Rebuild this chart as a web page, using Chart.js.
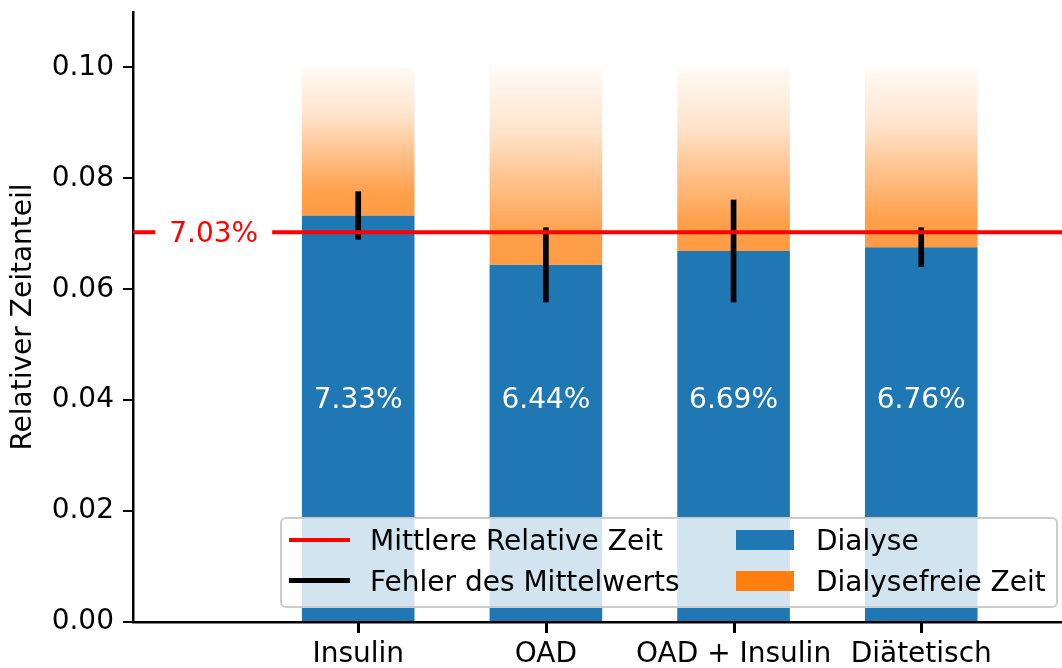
<!DOCTYPE html>
<html>
<head>
<meta charset="utf-8">
<script src="https://cdn.jsdelivr.net/npm/chart.js@4.4.1/dist/chart.umd.min.js"></script>
<style>
  html, body { margin: 0; padding: 0; background: #fff; }
  #wrap { width: 1062px; height: 668px; }
</style>
</head>
<body>
<div id="wrap"><canvas id="chart" width="1062" height="668"></canvas></div>
<script>
// Data
const categories = ['Insulin', 'OAD', 'OAD + Insulin', 'Diätetisch'];
const dialyse = [0.0733, 0.0644, 0.0669, 0.0676];
const fehler = [0.0043, 0.0067, 0.0092, 0.0035];
const barLabels = ['7.33%', '6.44%', '6.69%', '6.76%'];
const meanValue = 0.0703;
const meanLabel = '7.03%';
const yTop = 0.10;
const yTicks = [0, 0.02, 0.04, 0.06, 0.08, 0.10];
const xTicks = [0, 1, 2, 3];

const FONT = '"DejaVu Sans", "Liberation Sans", sans-serif';
const BLUE = '#1f77b4';

// orange part fades out towards the top
function orangeFill(c) {
  const chart = c.chart;
  if (!chart.chartArea || c.dataIndex === undefined) return 'rgba(255,127,14,0.75)';
  const ys = chart.scales.y;
  const y0 = ys.getPixelForValue(dialyse[c.dataIndex]);
  const y1 = ys.getPixelForValue(yTop);
  const g = chart.ctx.createLinearGradient(0, y0, 0, y1);
  g.addColorStop(0, 'rgba(255,127,14,0.78)');
  g.addColorStop(0.15, 'rgba(255,127,14,0.75)');
  g.addColorStop(0.45, 'rgba(255,127,14,0.45)');
  g.addColorStop(0.67, 'rgba(255,127,14,0.22)');
  g.addColorStop(1, 'rgba(255,127,14,0.03)');
  return g;
}

// labels in bars, mean label, x tick marks, legend
const extras = {
  id: 'extras',
  afterDatasetsDraw(chart) {
    const ctx = chart.ctx;
    const xs = chart.scales.x, ys = chart.scales.y;
    ctx.save();
    ctx.font = '28px ' + FONT;
    ctx.textAlign = 'center';
    ctx.textBaseline = 'alphabetic';
    ctx.fillStyle = '#fff';
    barLabels.forEach((t, i) => {
      ctx.fillText(t, xs.getPixelForValue(i), ys.getPixelForValue(0.04) + 8);
    });

    // mean label with white box over the red line
    const mx = xs.getPixelForValue(-0.77), my = ys.getPixelForValue(meanValue);
    const w = ctx.measureText(meanLabel).width;
    ctx.fillStyle = '#fff';
    ctx.fillRect(mx - w / 2 - 14, my - 12, w + 28, 24);
    ctx.fillStyle = '#ff0000';
    ctx.fillText(meanLabel, mx, my + 10);
    ctx.restore();
  },
  afterDraw(chart) {
    const ctx = chart.ctx;
    const xs = chart.scales.x;
    ctx.save();
    // x tick marks
    ctx.fillStyle = '#000';
    xTicks.forEach(v => {
      const px = Math.round(xs.getPixelForValue(v));
      ctx.fillRect(px - 1, xs.top, 3, 11);
    });

    // legend frame
    const x0 = 281, y0 = 518, x1 = 1057, y1 = 607, r = 5;
    ctx.beginPath();
    ctx.moveTo(x0 + r, y0);
    ctx.arcTo(x1, y0, x1, y1, r);
    ctx.arcTo(x1, y1, x0, y1, r);
    ctx.arcTo(x0, y1, x0, y0, r);
    ctx.arcTo(x0, y0, x1, y0, r);
    ctx.closePath();
    ctx.fillStyle = 'rgba(255,255,255,0.8)';
    ctx.fill();
    ctx.strokeStyle = '#cccccc';
    ctx.lineWidth = 2;
    ctx.stroke();

    ctx.lineCap = 'butt';
    ctx.strokeStyle = '#ff0000';
    ctx.lineWidth = 4;
    ctx.beginPath(); ctx.moveTo(289, 540); ctx.lineTo(350, 540); ctx.stroke();
    ctx.strokeStyle = '#000';
    ctx.lineWidth = 5;
    ctx.beginPath(); ctx.moveTo(289, 580.5); ctx.lineTo(350, 580.5); ctx.stroke();
    ctx.fillStyle = BLUE;
    ctx.fillRect(736, 530, 58, 20);
    ctx.fillStyle = '#ff7f0e';
    ctx.fillRect(736, 571, 58, 20);

    ctx.font = '28px ' + FONT;
    ctx.fillStyle = '#000';
    ctx.textAlign = 'left';
    ctx.textBaseline = 'alphabetic';
    ctx.fillText('Mittlere Relative Zeit', 370, 550);
    ctx.fillText('Fehler des Mittelwerts', 370, 591);
    ctx.fillText('Dialyse', 816, 550);
    ctx.fillText('Dialysefreie Zeit', 816, 591);
    ctx.restore();
  }
};

new Chart(document.getElementById('chart'), {
  type: 'bar',
  data: {
    datasets: [
      {
        type: 'line',
        label: 'Mittlere Relative Zeit',
        data: [{ x: -1.2, y: meanValue }, { x: 3.75, y: meanValue }],
        borderColor: '#ff0000',
        borderWidth: 4,
        pointRadius: 0,
        order: 0
      },
      {
        label: 'Fehler des Mittelwerts',
        data: dialyse.map((v, i) => ({ x: i, y: [v - fehler[i], v + fehler[i]] })),
        backgroundColor: '#000',
        barThickness: 5,
        grouped: false,
        order: 1
      },
      {
        label: 'Dialysefreie Zeit',
        data: dialyse.map((v, i) => ({ x: i, y: [v, yTop] })),
        backgroundColor: orangeFill,
        barPercentage: 0.6,
        categoryPercentage: 1,
        grouped: false,
        order: 2
      },
      {
        label: 'Dialyse',
        data: dialyse.map((v, i) => ({ x: i, y: v })),
        backgroundColor: BLUE,
        barPercentage: 0.6,
        categoryPercentage: 1,
        grouped: false,
        order: 3
      }
    ]
  },
  options: {
    responsive: false,
    animation: false,
    devicePixelRatio: 1,
    layout: { padding: { top: 12, left: 0, right: 0, bottom: 0 } },
    plugins: { legend: { display: false }, tooltip: { enabled: false } },
    scales: {
      x: {
        type: 'linear',
        min: -1.2,
        max: 3.75,
        offset: false,
        afterBuildTicks: s => { s.ticks = xTicks.map(v => ({ value: v })); },
        afterFit: s => { s.height = 46; s.paddingLeft = 0; s.paddingRight = 0; },
        ticks: {
          callback: v => categories[v] || '',
          font: { family: FONT, size: 28 },
          color: '#000',
          padding: 6,
          maxRotation: 0,
          autoSkip: false
        },
        grid: { display: true, offset: false, drawOnChartArea: false, drawTicks: true, tickLength: 10, color: '#000', lineWidth: 2 },
        border: { display: true, color: '#000', width: 2.5 }
      },
      y: {
        min: 0,
        max: 0.11,
        afterBuildTicks: s => { s.ticks = yTicks.map(v => ({ value: v })); },
        afterFit: s => { s.width = 133; s.paddingTop = 0; s.paddingBottom = 0; },
        ticks: {
          callback: v => v.toFixed(2),
          font: { family: FONT, size: 28 },
          color: '#000',
          padding: 9
        },
        grid: { display: true, drawOnChartArea: false, drawTicks: true, tickLength: 10, color: '#000', lineWidth: 2 },
        border: { display: true, color: '#000', width: 2.5 },
        title: {
          display: true,
          text: 'Relativer Zeitanteil',
          font: { family: FONT, size: 28 },
          color: '#000',
          padding: { top: 7, bottom: 0 }
        }
      }
    }
  },
  plugins: [extras]
});
</script>
</body>
</html>
